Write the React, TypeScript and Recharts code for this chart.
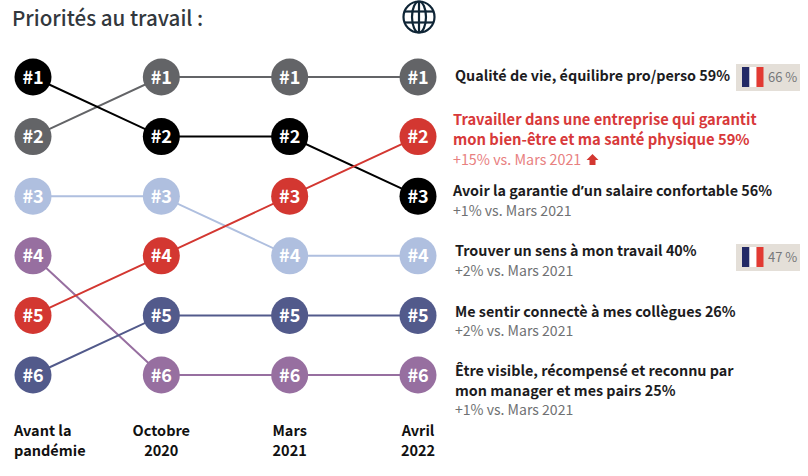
import React from "react";
import { LineChart, Line, XAxis, YAxis } from "recharts";

const FONT = '"Noto Sans CJK SC", "Noto Sans", sans-serif';

const periods = ["Avant la|pandémie", "Octobre|2020", "Mars|2021", "Avril|2022"];
const qualite = [2, 1, 1, 1];
const entreprise = [5, 4, 3, 2];
const salaire = [1, 2, 2, 3];
const sens = [3, 3, 4, 4];
const connecte = [6, 5, 5, 5];
const visible = [4, 6, 6, 6];

const seriesList = [
  { key: "qualite", values: qualite, color: "#636467" },
  { key: "sens", values: sens, color: "#AFBFDF" },
  { key: "visible", values: visible, color: "#976FA0" },
  { key: "connecte", values: connecte, color: "#525A8B" },
  { key: "salaire", values: salaire, color: "#000000" },
  { key: "entreprise", values: entreprise, color: "#D33731" },
];

const table = periods.map((period, i) => {
  const row: Record<string, string | number> = { period };
  seriesList.forEach((s) => {
    row[s.key] = s.values[i];
  });
  return row;
});

const RED = "#D8393A";
const PINK = "#E8807F";
const DARK = "#1c1c1e";
const GRAY = "#6f7173";

const labelLines = [
  { text: "Qualité de vie, équilibre pro/perso 59%", x: 455, y: 81, bold: true, fill: DARK, size: 14.35 },
  { text: "Travailler dans une entreprise qui garantit", x: 453, y: 125, bold: true, fill: RED, size: 14.7 },
  { text: "mon bien-être et ma santé physique 59%", x: 453, y: 145, bold: true, fill: RED, size: 14.8 },
  { text: "+15% vs. Mars 2021", x: 453, y: 165, bold: false, fill: PINK, size: 14.3 },
  { text: "Avoir la garantie d|’|un salaire confortable 56%", x: 453, y: 196, bold: true, fill: DARK, size: 14.35 },
  { text: "+1% vs. Mars 2021", x: 453, y: 216, bold: false, fill: GRAY, size: 14.1 },
  { text: "Trouver un sens à mon travail 40%", x: 455, y: 256, bold: true, fill: DARK, size: 14.35 },
  { text: "+2% vs. Mars 2021", x: 455, y: 276, bold: false, fill: GRAY, size: 14.05 },
  { text: "Me sentir connectè à mes collègues 26%", x: 455, y: 317, bold: true, fill: DARK, size: 14.35 },
  { text: "+2% vs. Mars 2021", x: 455, y: 336, bold: false, fill: GRAY, size: 14.05 },
  { text: "Être visible, récompensé et reconnu par", x: 455, y: 376, bold: true, fill: DARK, size: 14.35 },
  { text: "mon manager et mes pairs 25%", x: 455, y: 396, bold: true, fill: DARK, size: 14.35 },
  { text: "+1% vs. Mars 2021", x: 455, y: 415, bold: false, fill: GRAY, size: 14.05 },
];

const badges = [
  { text: "66 %", y: 64 },
  { text: "47 %", y: 244 },
];

function makeDot(color: string) {
  return (props: any) => {
    const { cx, cy, value, index } = props;
    return (
      <g key={index}>
        <circle cx={cx} cy={cy} r={18.5} fill={color} />
        <text
          x={cx}
          y={cy + 6.5}
          textAnchor="middle"
          fontFamily={FONT}
          fontWeight={700}
          fontSize={18}
          fill="#ffffff"
        >
          {"#" + value}
        </text>
      </g>
    );
  };
}

function PeriodTick(props: any) {
  const { x, payload, index } = props;
  const lines = String(payload.value).split("|");
  const first = index === 0;
  return (
    <g>
      {lines.map((line: string, i: number) => (
        <text
          key={line}
          x={first ? x - 19 : x}
          y={436 + i * 20}
          textAnchor={first ? "start" : "middle"}
          fontFamily={FONT}
          fontWeight={700}
          fontSize={14.5}
          fill="#111111"
        >
          {line}
        </text>
      ))}
    </g>
  );
}

export default function App() {
  return (
    <div style={{ position: "absolute", left: 0, top: 0, width: 808, height: 476, background: "#fff" }}>
      <LineChart
        width={808}
        height={476}
        data={table}
        margin={{ top: 77, right: 390, bottom: 0, left: 33 }}
      >
        <XAxis
          dataKey="period"
          height={101}
          axisLine={false}
          tickLine={false}
          padding={{ left: 0, right: 0 }}
          interval={0}
          tick={<PeriodTick />}
        />
        <YAxis hide reversed domain={[1, 6]} />
        {seriesList.map((s) => (
          <Line
            key={s.key}
            dataKey={s.key}
            type="linear"
            stroke={s.color}
            strokeWidth={2}
            dot={makeDot(s.color)}
            activeDot={false}
            isAnimationActive={false}
          />
        ))}
      </LineChart>
      <svg
        width={808}
        height={476}
        style={{ position: "absolute", left: 0, top: 0, pointerEvents: "none" }}
      >
        <text x={12} y={26} fontFamily={FONT} fontWeight={500} fontSize={20.6} fill="#33383d">
          Priorités au travail :
        </text>
        <g fill="none" stroke="#0f2536" strokeWidth={2.2}>
          <circle cx={419} cy={17} r={15.5} />
          <ellipse cx={419} cy={17} rx={7} ry={15.5} />
          <line x1={419} y1={1.5} x2={419} y2={32.5} />
          <line x1={404.5} y1={11.5} x2={433.5} y2={11.5} />
          <line x1={404.5} y1={22.5} x2={433.5} y2={22.5} />
        </g>
        {labelLines.map((l, i) => (
          <text
            key={i}
            x={l.x}
            y={l.y}
            fontFamily={FONT}
            fontWeight={l.bold ? 700 : 400}
            fontSize={l.size}
            fill={l.fill}
          >
            {l.text.split("|").map((part, j) => (
              <tspan key={j} fontFamily={part === "’" ? '"Open Sans", sans-serif' : FONT}>
                {part}
              </tspan>
            ))}
          </text>
        ))}
        <path d="M592.5 154 L598.5 160 L595.5 160 L595.5 165 L589.5 165 L589.5 160 L586.5 160 Z" fill="#D33731" />
        {badges.map((b) => (
          <g key={b.text}>
            <rect x={736} y={b.y} width={64} height={27} fill="#E4DFD8" />
            <rect x={742} y={b.y + 3} width={7.5} height={20} fill="#232A66" />
            <rect x={749.5} y={b.y + 3} width={7} height={20} fill="#ffffff" />
            <rect x={756.5} y={b.y + 3} width={7} height={20} fill="#E23A33" />
            <text x={768} y={b.y + 18} fontFamily={FONT} fontSize={13} fill="#77787a">
              {b.text}
            </text>
          </g>
        ))}
      </svg>
    </div>
  );
}
